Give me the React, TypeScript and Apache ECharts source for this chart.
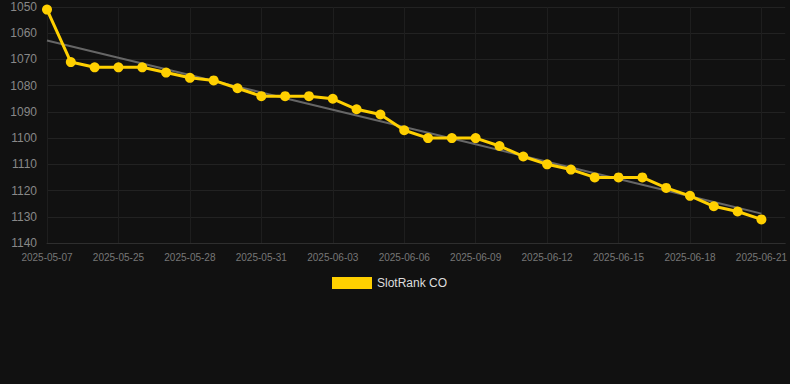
import React, { useEffect, useRef } from "react";
import * as echarts from "echarts";

const categories: string[] = [
  "2025-05-07", "2025-05-23", "2025-05-24", "2025-05-25", "2025-05-26", "2025-05-27",
  "2025-05-28", "2025-05-29", "2025-05-30", "2025-05-31", "2025-06-01", "2025-06-02",
  "2025-06-03", "2025-06-04", "2025-06-05", "2025-06-06", "2025-06-07", "2025-06-08",
  "2025-06-09", "2025-06-10", "2025-06-11", "2025-06-12", "2025-06-13", "2025-06-14",
  "2025-06-15", "2025-06-16", "2025-06-17", "2025-06-18", "2025-06-19", "2025-06-20",
  "2025-06-21",
];

const rankValues: number[] = [
  1051, 1071, 1073, 1073, 1073, 1075, 1077, 1078, 1081, 1084, 1084, 1084, 1085, 1089,
  1091, 1097, 1100, 1100, 1100, 1103, 1107, 1110, 1112, 1115, 1115, 1115, 1119, 1122,
  1126, 1128, 1131,
];

const seriesName = "SlotRank CO";

function trend(values: number[]): number[] {
  const n = values.length;
  const mx = (n - 1) / 2;
  const my = values.reduce((a, b) => a + b, 0) / n;
  let sxy = 0;
  let sxx = 0;
  values.forEach((v, i) => {
    sxy += (i - mx) * (v - my);
    sxx += (i - mx) * (i - mx);
  });
  const slope = sxy / sxx;
  return values.map((_, i) => my + slope * (i - mx));
}

export default function App() {
  const ref = useRef<HTMLDivElement>(null);
  useEffect(() => {
    if (!ref.current) return;
    const chart = echarts.init(ref.current, undefined, { renderer: "svg" });
    const cats = [...categories, ""];
    chart.setOption({
      animation: false,
      backgroundColor: "#111111",
      grid: { left: 47, right: 4, top: 7, bottom: 141, containLabel: false },
      legend: {
        data: [seriesName],
        top: 272,
        left: 327,
        itemWidth: 40,
        itemHeight: 12,
        itemGap: 10,
        icon: "rect",
        textStyle: { color: "#dddddd", fontSize: 12, fontFamily: "Liberation Sans, Arial, sans-serif" },
      },
      xAxis: {
        type: "category",
        data: cats,
        boundaryGap: false,
        axisLine: { show: true, lineStyle: { color: "#2e2e2e" } },
        axisTick: { show: false },
        axisLabel: {
          interval: 2,
          color: "#777777",
          fontSize: 10,
          margin: 9,
          fontFamily: "Liberation Sans, Arial, sans-serif",
        },
        splitLine: { show: true, interval: 2, lineStyle: { color: "#1e1e1e" } },
      },
      yAxis: {
        type: "value",
        inverse: true,
        min: 1050,
        max: 1140,
        interval: 10,
        axisLine: { show: false },
        axisTick: { show: false },
        axisLabel: {
          color: "#888888",
          fontSize: 12,
          margin: 10,
          fontFamily: "Liberation Sans, Arial, sans-serif",
          formatter: (v: number) => String(v),
        },
        splitLine: { show: true, lineStyle: { color: "#222222" } },
      },
      series: [
        {
          name: "trend",
          type: "line",
          data: trend(rankValues),
          symbol: "none",
          lineStyle: { color: "#666666", width: 2 },
          itemStyle: { color: "#666666" },
          silent: true,
          z: 1,
        },
        {
          name: seriesName,
          type: "line",
          data: rankValues,
          symbol: "circle",
          symbolSize: 10,
          lineStyle: { color: "#FFD000", width: 3 },
          itemStyle: { color: "#FFD000" },
          z: 2,
        },
      ],
    });
    return () => chart.dispose();
  }, []);
  return (
    <div
      ref={ref}
      style={{ position: "fixed", left: 0, top: 0, width: 790, height: 384 }}
    />
  );
}
